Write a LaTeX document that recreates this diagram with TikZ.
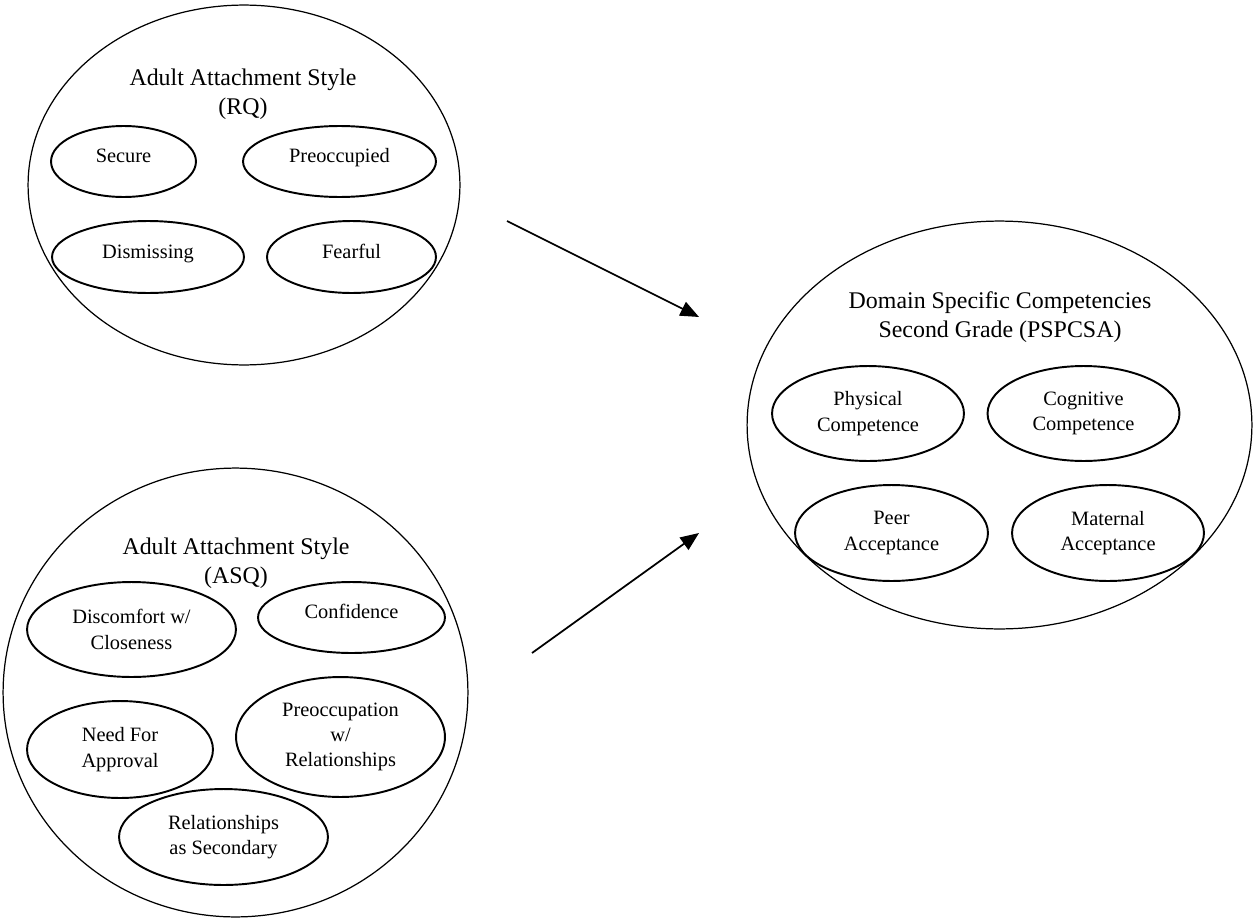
\documentclass[tikz,border=0pt]{standalone}
\usepackage{fontspec}
\setmainfont{Liberation Serif}
\usetikzlibrary{shapes.geometric,arrows.meta}

\begin{document}
\begin{tikzpicture}[x=0.02cm,y=-0.02cm,
        esize/.style 2 args={minimum width=#1*0.04cm,minimum height=#2*0.04cm},
        outer/.style={ellipse,draw,line width=0.7pt,inner sep=0pt},
        scale item/.style={ellipse,draw,line width=1.1pt,inner sep=0pt,align=center,
            font=\fontsize{11.6}{14.4}\selectfont},
        one line/.style={text height=0.65em,text depth=0.5em},
        title/.style={align=center,font=\fontsize{13.6}{16.6}\selectfont},
        link/.style={-{Triangle[length=0.37cm,width=0.3cm]},line width=1pt}]
        \useasboundingbox (0,0) rectangle (1253,919);
        % RQ
        \node[outer,esize={216}{180}] (rq) at (244,185) {};
        \node[title] (rqtitle) at (243,94) {Adult Attachment Style\\(RQ)};
        \node[scale item,one line,esize={72.5}{35.5}] (secure) at (123.5,161.5) {Secure};
        \node[scale item,one line,esize={96.5}{35.5}] (preocc) at (339.5,161.5) {Preoccupied};
        \node[scale item,one line,esize={96}{36}] (dismiss) at (148,257) {Dismissing};
        \node[scale item,one line,esize={84.5}{36}] (fearful) at (351.5,257) {Fearful};
        % ASQ
        \node[outer,esize={232.5}{224.5}] (asq) at (235.5,692.5) {};
        \node[title] (asqtitle) at (236,563.5) {Adult Attachment Style\\(ASQ)};
        \node[scale item,esize={104.5}{47.5}] (discomf) at (131.5,629.5) {Discomfort w/\\Closeness};
        \node[scale item,one line,esize={93.5}{35.5}] (confid) at (351.5,617.5) {Confidence};
        \node[scale item,esize={93}{48.5}] (approval) at (120,749.5) {Need For\\Approval};
        \node[scale item,esize={104.5}{60}] (preoccrel) at (340.5,737) {Preoccupation\\w/\\Relationships};
        \node[scale item,esize={104.5}{48}] (secondary) at (223.5,837) {Relationships\\as Secondary};
        % PSPCSA
        \node[outer,esize={252.5}{204}] (pspcsa) at (999.5,425) {};
        \node[title] (pstitle) at (1000,317.5) {Domain Specific Competencies\\Second Grade (PSPCSA)};
        \node[scale item,esize={96}{47.5}] (physical) at (868,413.5) {Physical\\Competence};
        \node[scale item,esize={96}{47.5}] (cognitive) at (1083.5,413.5) {Cognitive\\Competence};
        \node[scale item,esize={96.5}{48}] (peer) at (891.5,533) {Peer\\Acceptance};
        \node[scale item,esize={96}{48}] (maternal) at (1108,533) {Maternal\\Acceptance};
        % arrows
        \coordinate (rqout) at (507,221);
        \coordinate (rqin) at (699,317);
        \coordinate (asqout) at (532,653);
        \coordinate (asqin) at (699,533);
        \draw[link] (rqout) -- (rqin);
        \draw[link] (asqout) -- (asqin);
\end{tikzpicture}
\end{document}
